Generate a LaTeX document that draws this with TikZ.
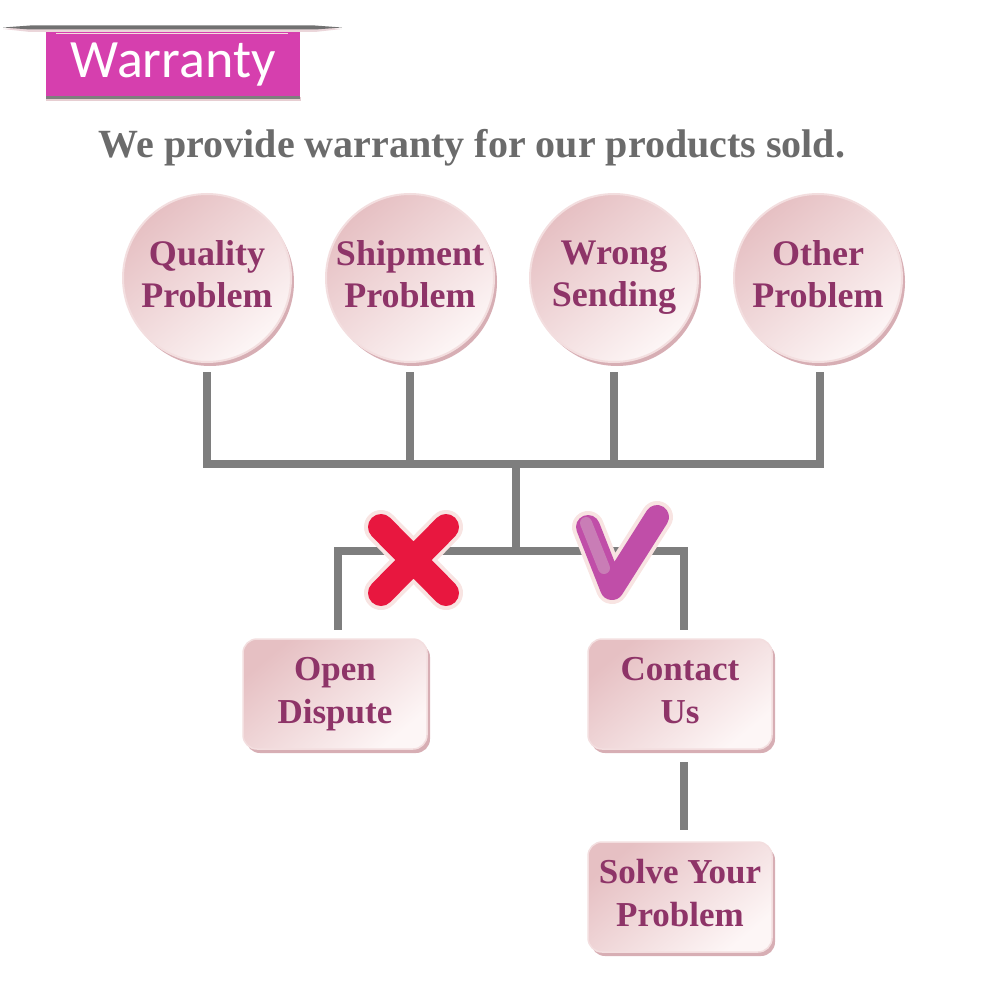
\documentclass[tikz,border=0pt]{standalone}
\usepackage{fontspec}
\setmainfont{Liberation Serif}
\newfontfamily\bannerfont{Carlito}
\usetikzlibrary{shadows}
\definecolor{bannerc}{HTML}{D63FAE}
\definecolor{subc}{HTML}{6B6B6B}
\definecolor{txtc}{HTML}{8E3468}
\definecolor{linec}{HTML}{7E7E7E}
\definecolor{pinkd}{HTML}{E6C0C3}
\definecolor{pinkl}{HTML}{FDF6F6}
\definecolor{shadc}{HTML}{D7AEB4}
\definecolor{rimc}{HTML}{F3DEDF}
\definecolor{xred}{HTML}{E8173F}
\definecolor{vpur}{HTML}{C04EA8}
\definecolor{vpurl}{HTML}{C97DB6}
\definecolor{markrim}{HTML}{F8E4E2}
\newcommand{\mydepth}{\vphantom{gp}}
\tikzset{
  circ/.style={circle, minimum size=168pt, inner sep=0pt, draw=rimc, line width=2pt,
    top color=pinkd, bottom color=pinkl, shading angle=40,
    drop shadow={shadow xshift=3pt, shadow yshift=-4pt, fill=shadc, opacity=1},
    align=center, text=txtc, font=\bfseries\fontsize{36}{42}\selectfont},
  boxn/.style={rectangle, rounded corners=14pt, minimum width=184pt, minimum height=110pt,
    inner sep=0pt, draw=rimc, line width=1.5pt,
    top color=pinkd, bottom color=pinkl, shading angle=40,
    drop shadow={shadow xshift=3pt, shadow yshift=-4pt, fill=shadc, opacity=1},
    align=center, text=txtc, font=\bfseries\fontsize{35}{43}\selectfont},
  conn/.style={draw=linec, line width=8pt},
}
\begin{document}
\begin{tikzpicture}[x=1pt,y=-1pt]
\useasboundingbox (0,0) rectangle (1000,1000);
% banner
\fill[shadc!60] (46,97) rectangle (301,101);
\fill[linec] (46,96) rectangle (300,99);
\node[fill=bannerc, minimum width=254pt, minimum height=64pt, inner sep=0pt, anchor=north west,
  text=white, font=\bannerfont\fontsize{54}{60}\selectfont] (banner) at (46,32) {Warranty};
\draw[line width=1.5pt, rimc] (56,33.5) -- (288,33.5);
\fill[shadc!50] (3,29) -- (30,26.5) -- (315,26.5) -- (342,29) -- (315,32) -- (30,32) -- cycle;
\fill[linec!90!black] (3,27.5) -- (30,25.5) -- (315,25.5) -- (342,27.5) -- (315,29.5) -- (30,29.5) -- cycle;
% subtitle
\node[anchor=base, text=subc, font=\bfseries\fontsize{40}{46}\selectfont, inner sep=0pt] (sub) at (472,158)
  {We provide warranty for our products sold.};
% circles
\node[circ] (q) at (207,278) {Quality\\Problem\mydepth};
\node[circ] (s) at (410,278) {Shipment\\Problem\mydepth};
\node[circ] (w) at (614,278) {Wrong\\Sending\mydepth};
\node[circ] (o) at (818,278) {Other\\Problem\mydepth};
% boxes
\node[boxn] (od) at (335,694) {Open\\Dispute\mydepth};
\node[boxn] (cu) at (680,694) {Contact\\Us\mydepth};
\node[boxn] (sy) at (680,897) {Solve Your\\Problem\mydepth};
% connectors
\coordinate (hl) at (207,464);
\coordinate (hr) at (820,464);
\coordinate (hub) at (516,464);
\coordinate (mid) at (516,551);
\coordinate (ml) at (338,551);
\coordinate (mr) at (684,551);
\draw[conn] ([yshift=-9pt]q.south) -- (hl);
\draw[conn] ([yshift=-9pt]s.south) -- (410,464);
\draw[conn] ([yshift=-9pt]w.south) -- (614,464);
\draw[conn] ([yshift=-9pt,xshift=2pt]o.south) -- (hr);
\draw[conn, line cap=rect] (hl) -- (hr);
\draw[conn] (hub) -- (mid);
\draw[conn, line cap=rect] (ml) -- (mr);
\draw[conn] (ml) -- (338,630);
\draw[conn] (mr) -- (684,630);
\draw[conn] (684,762) -- (684,830);
% X mark
\draw[markrim, line width=34pt, line cap=round] (381,527) -- (446,593) (446,527) -- (381,593);
\draw[xred, line width=26pt, line cap=round] (381,527) -- (446,593) (446,527) -- (381,593);
% check mark
\draw[markrim, line width=32pt, line cap=round, line join=round] (588,527) -- (612,588) -- (657,517);
\draw[vpur, line width=24pt, line cap=round, line join=round] (588,527) -- (612,588) -- (657,517);
\draw[vpurl, line width=12pt, line cap=round] (586,523) -- (604,568);
\end{tikzpicture}
\end{document}
